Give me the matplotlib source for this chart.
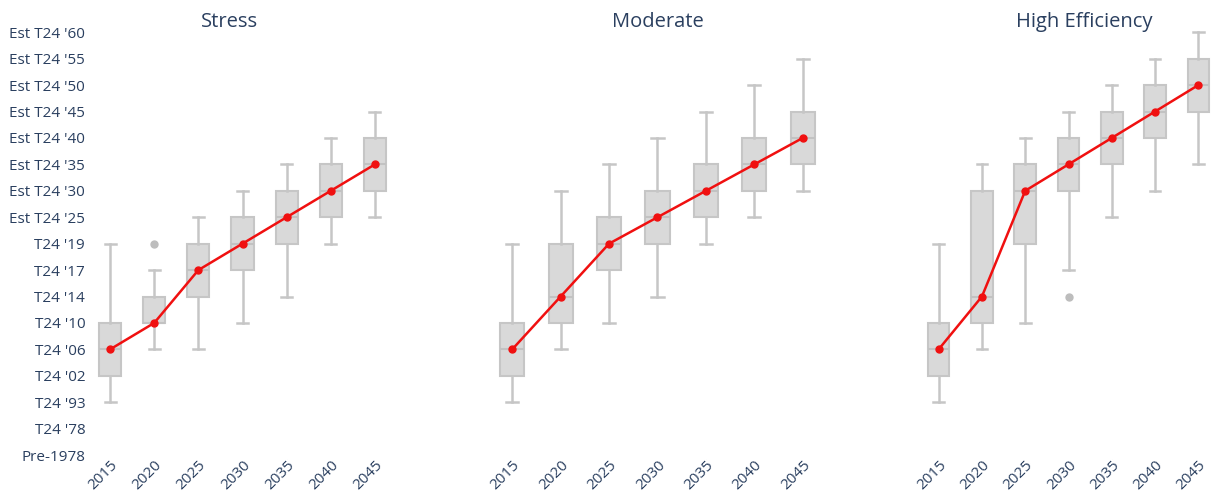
import matplotlib
matplotlib.use("Agg")
import matplotlib.pyplot as plt

# category ladder on the y axis (index = position)
codes = ["Pre-1978", "T24 '78", "T24 '93", "T24 '02", "T24 '06", "T24 '10",
         "T24 '14", "T24 '17", "T24 '19", "Est T24 '25", "Est T24 '30",
         "Est T24 '35", "Est T24 '40", "Est T24 '45", "Est T24 '50",
         "Est T24 '55", "Est T24 '60"]
years = ["2015", "2020", "2025", "2030", "2035", "2040", "2045"]

# box summaries per year, as indices into codes
stress_lo = [2, 4, 4, 5, 6, 8, 9]
stress_q1 = [3, 5, 6, 7, 8, 9, 10]
stress_med = [4, 5, 7, 8, 9, 10, 11]
stress_q3 = [5, 6, 8, 9, 10, 11, 12]
stress_hi = [8, 7, 9, 10, 11, 12, 13]
stress_out = [[], [8], [], [], [], [], []]

moderate_lo = [2, 4, 5, 6, 8, 9, 10]
moderate_q1 = [3, 5, 7, 8, 9, 10, 11]
moderate_med = [4, 6, 8, 9, 10, 11, 12]
moderate_q3 = [5, 8, 9, 10, 11, 12, 13]
moderate_hi = [8, 10, 11, 12, 13, 14, 15]
moderate_out = [[], [], [], [], [], [], []]

higheff_lo = [2, 4, 5, 7, 9, 10, 11]
higheff_q1 = [3, 5, 8, 10, 11, 12, 13]
higheff_med = [4, 6, 10, 11, 12, 13, 14]
higheff_q3 = [5, 10, 11, 12, 13, 14, 15]
higheff_hi = [8, 11, 12, 13, 14, 15, 16]
higheff_out = [[], [], [], [6], [], [], []]

panels = [
    ("Stress", stress_lo, stress_q1, stress_med, stress_q3, stress_hi, stress_out),
    ("Moderate", moderate_lo, moderate_q1, moderate_med, moderate_q3, moderate_hi, moderate_out),
    ("High Efficiency", higheff_lo, higheff_q1, higheff_med, higheff_q3, higheff_hi, higheff_out),
]

W, H = 1211, 493
# panel extents in pixels (left, right)
xspans = [(88, 397), (488, 827), (917, 1220)]
title_x = [230, 658, 1084]
top_px, bot_px = 19, 458

txt = "#2a3f5f"
box_face = "#d9d9d9"
box_edge = "#c6c6c6"

plt.rcParams["font.family"] = ["Open Sans", "DejaVu Sans"]
fig = plt.figure(figsize=(W / 100, H / 100), dpi=100)

for i, (title, lo, q1, med, q3, hi, out) in enumerate(panels):
    l, r = xspans[i]
    ax = fig.add_axes([l / W, 1 - bot_px / H, (r - l) / W, (bot_px - top_px) / H])
    stats = []
    for j in range(len(years)):
        stats.append(dict(whislo=lo[j], q1=q1[j], med=med[j], q3=q3[j],
                          whishi=hi[j], fliers=out[j]))
    pos = list(range(len(years)))
    ax.bxp(stats, positions=pos, widths=0.5, patch_artist=True,
           showcaps=True, capwidths=0.25,
           boxprops=dict(facecolor=box_face, edgecolor=box_edge, linewidth=1.5),
           whiskerprops=dict(color=box_edge, linewidth=1.8),
           capprops=dict(color=box_edge, linewidth=1.8),
           medianprops=dict(color="#c2c2c2", linewidth=1.5),
           flierprops=dict(marker="o", markersize=5, markerfacecolor="#bdbdbd",
                           markeredgecolor="#bdbdbd"))
    ax.plot(pos, med, color="#f01010", linewidth=1.8, marker="o",
            markersize=5, zorder=5)

    ax.set_xlim(-0.5, 6.5)
    ax.set_ylim(-0.11, 16.5)
    ax.set_xticks(pos)
    ax.set_xticklabels(years, rotation=45, ha="right", va="top",
                       rotation_mode="anchor", fontsize=11, color=txt)
    ax.set_yticks(range(len(codes)))
    if i == 0:
        ax.set_yticklabels(codes, fontsize=11, color=txt)
    else:
        ax.set_yticklabels([])
    ax.tick_params(axis="y", length=0, pad=2)
    ax.tick_params(axis="x", length=0, pad=0)
    for s in ax.spines.values():
        s.set_visible(False)
    ax.set_facecolor("none")
    fig.text(title_x[i] / W, 1 - 27 / H, title, fontsize=14.5, color=txt,
             ha="center", va="baseline")

fig.savefig("out.png", dpi=100)
